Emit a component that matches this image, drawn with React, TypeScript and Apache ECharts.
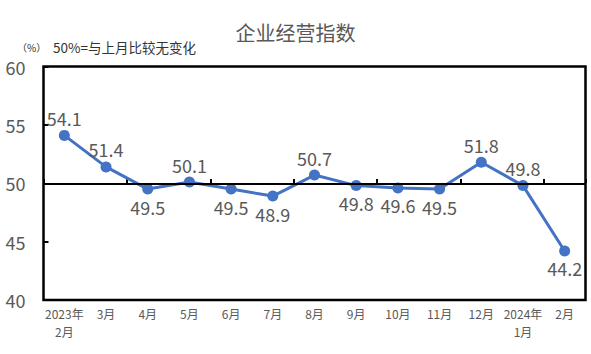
import React, { useEffect, useRef } from "react";
import * as echarts from "echarts";

const categories = [
  "2023年\n2月", "3月", "4月", "5月", "6月", "7月", "8月", "9月", "10月", "11月", "12月", "2024年\n1月", "2月",
];
const values = [54.1, 51.4, 49.5, 50.1, 49.5, 48.9, 50.7, 49.8, 49.6, 49.5, 51.8, 49.8, 44.2];
const yTicks = { min: 40, max: 60, interval: 5 };
const baseline = 50;
const titleText = "企业经营指数";
const unitText = "（%）";
const noteText = "50%=与上月比较无变化";
// indexes whose value label sits under the point
const labelsBelow = new Set([2, 4, 5, 7, 8, 9, 12]);

const FONT = "'Noto Sans CJK SC', 'Noto Sans', sans-serif";
const GREY = "#595959";

export default function App() {
  const ref = useRef<HTMLDivElement>(null);
  useEffect(() => {
    document.body.style.margin = "0";
    const chart = echarts.init(ref.current!, null, { renderer: "svg" });
    const gridPos = { left: 43.5, right: 5.5 };
    chart.setOption({
      animation: false,
      textStyle: { fontFamily: FONT },
      title: {
        text: titleText,
        left: "center",
        top: 17,
        textStyle: { fontSize: 20, fontWeight: "normal", color: GREY, fontFamily: FONT },
      },
      graphic: [
        {
          type: "text",
          left: 17,
          top: 42,
          style: { text: unitText, fontSize: 10, fill: "#333", fontFamily: FONT },
        },
        {
          type: "text",
          left: 53,
          top: 40,
          style: { text: noteText, fontSize: 13.5, fill: "#333", fontFamily: FONT },
        },
      ],
      grid: [
        { ...gridPos, top: 66.5, bottom: 54, show: true, borderColor: "#000", borderWidth: 2.5, backgroundColor: "transparent" },
        { ...gridPos, top: 66.5, bottom: 171, show: false },
      ],
      xAxis: [
        {
          type: "category",
          gridIndex: 0,
          data: categories,
          boundaryGap: true,
          axisLine: { show: false },
          axisTick: { show: false },
          axisLabel: { interval: 0, color: GREY, fontSize: 12, margin: 4, lineHeight: 18.5, fontFamily: FONT },
        },
        {
          type: "category",
          gridIndex: 1,
          data: categories,
          boundaryGap: true,
          axisLine: { show: false },
          axisTick: { show: true, inside: true, length: 4, lineStyle: { color: "#000", width: 2 } },
          axisLabel: { show: false },
        },
      ],
      yAxis: [
        {
          type: "value",
          gridIndex: 0,
          min: yTicks.min,
          max: yTicks.max,
          interval: yTicks.interval,
          axisLine: { show: false },
          axisTick: { show: true, inside: true, length: 5, lineStyle: { color: "#000", width: 2 } },
          splitLine: { show: false },
          axisLabel: { color: GREY, fontSize: 18, margin: 18, fontFamily: FONT },
        },
        { type: "value", gridIndex: 1, show: false },
      ],
      series: [
        {
          type: "line",
          xAxisIndex: 0,
          yAxisIndex: 0,
          data: values.map((v, i) => ({
            value: v,
            label: { position: labelsBelow.has(i) ? "bottom" : "top" },
          })),
          symbol: "circle",
          symbolSize: 11,
          lineStyle: { color: "#4472C4", width: 3 },
          itemStyle: { color: "#4472C4" },
          label: {
            show: true,
            fontSize: 18,
            color: GREY,
            distance: 3,
            fontFamily: FONT,
            formatter: (p: any) => p.value.toFixed(1),
          },
          markLine: {
            silent: true,
            symbol: "none",
            label: { show: false },
            lineStyle: { color: "#000", width: 2, type: "solid" },
            data: [{ yAxis: baseline }],
          },
          z: 3,
        },
      ],
    });
    return () => chart.dispose();
  }, []);
  return <div ref={ref} style={{ width: 591, height: 354 }} />;
}
